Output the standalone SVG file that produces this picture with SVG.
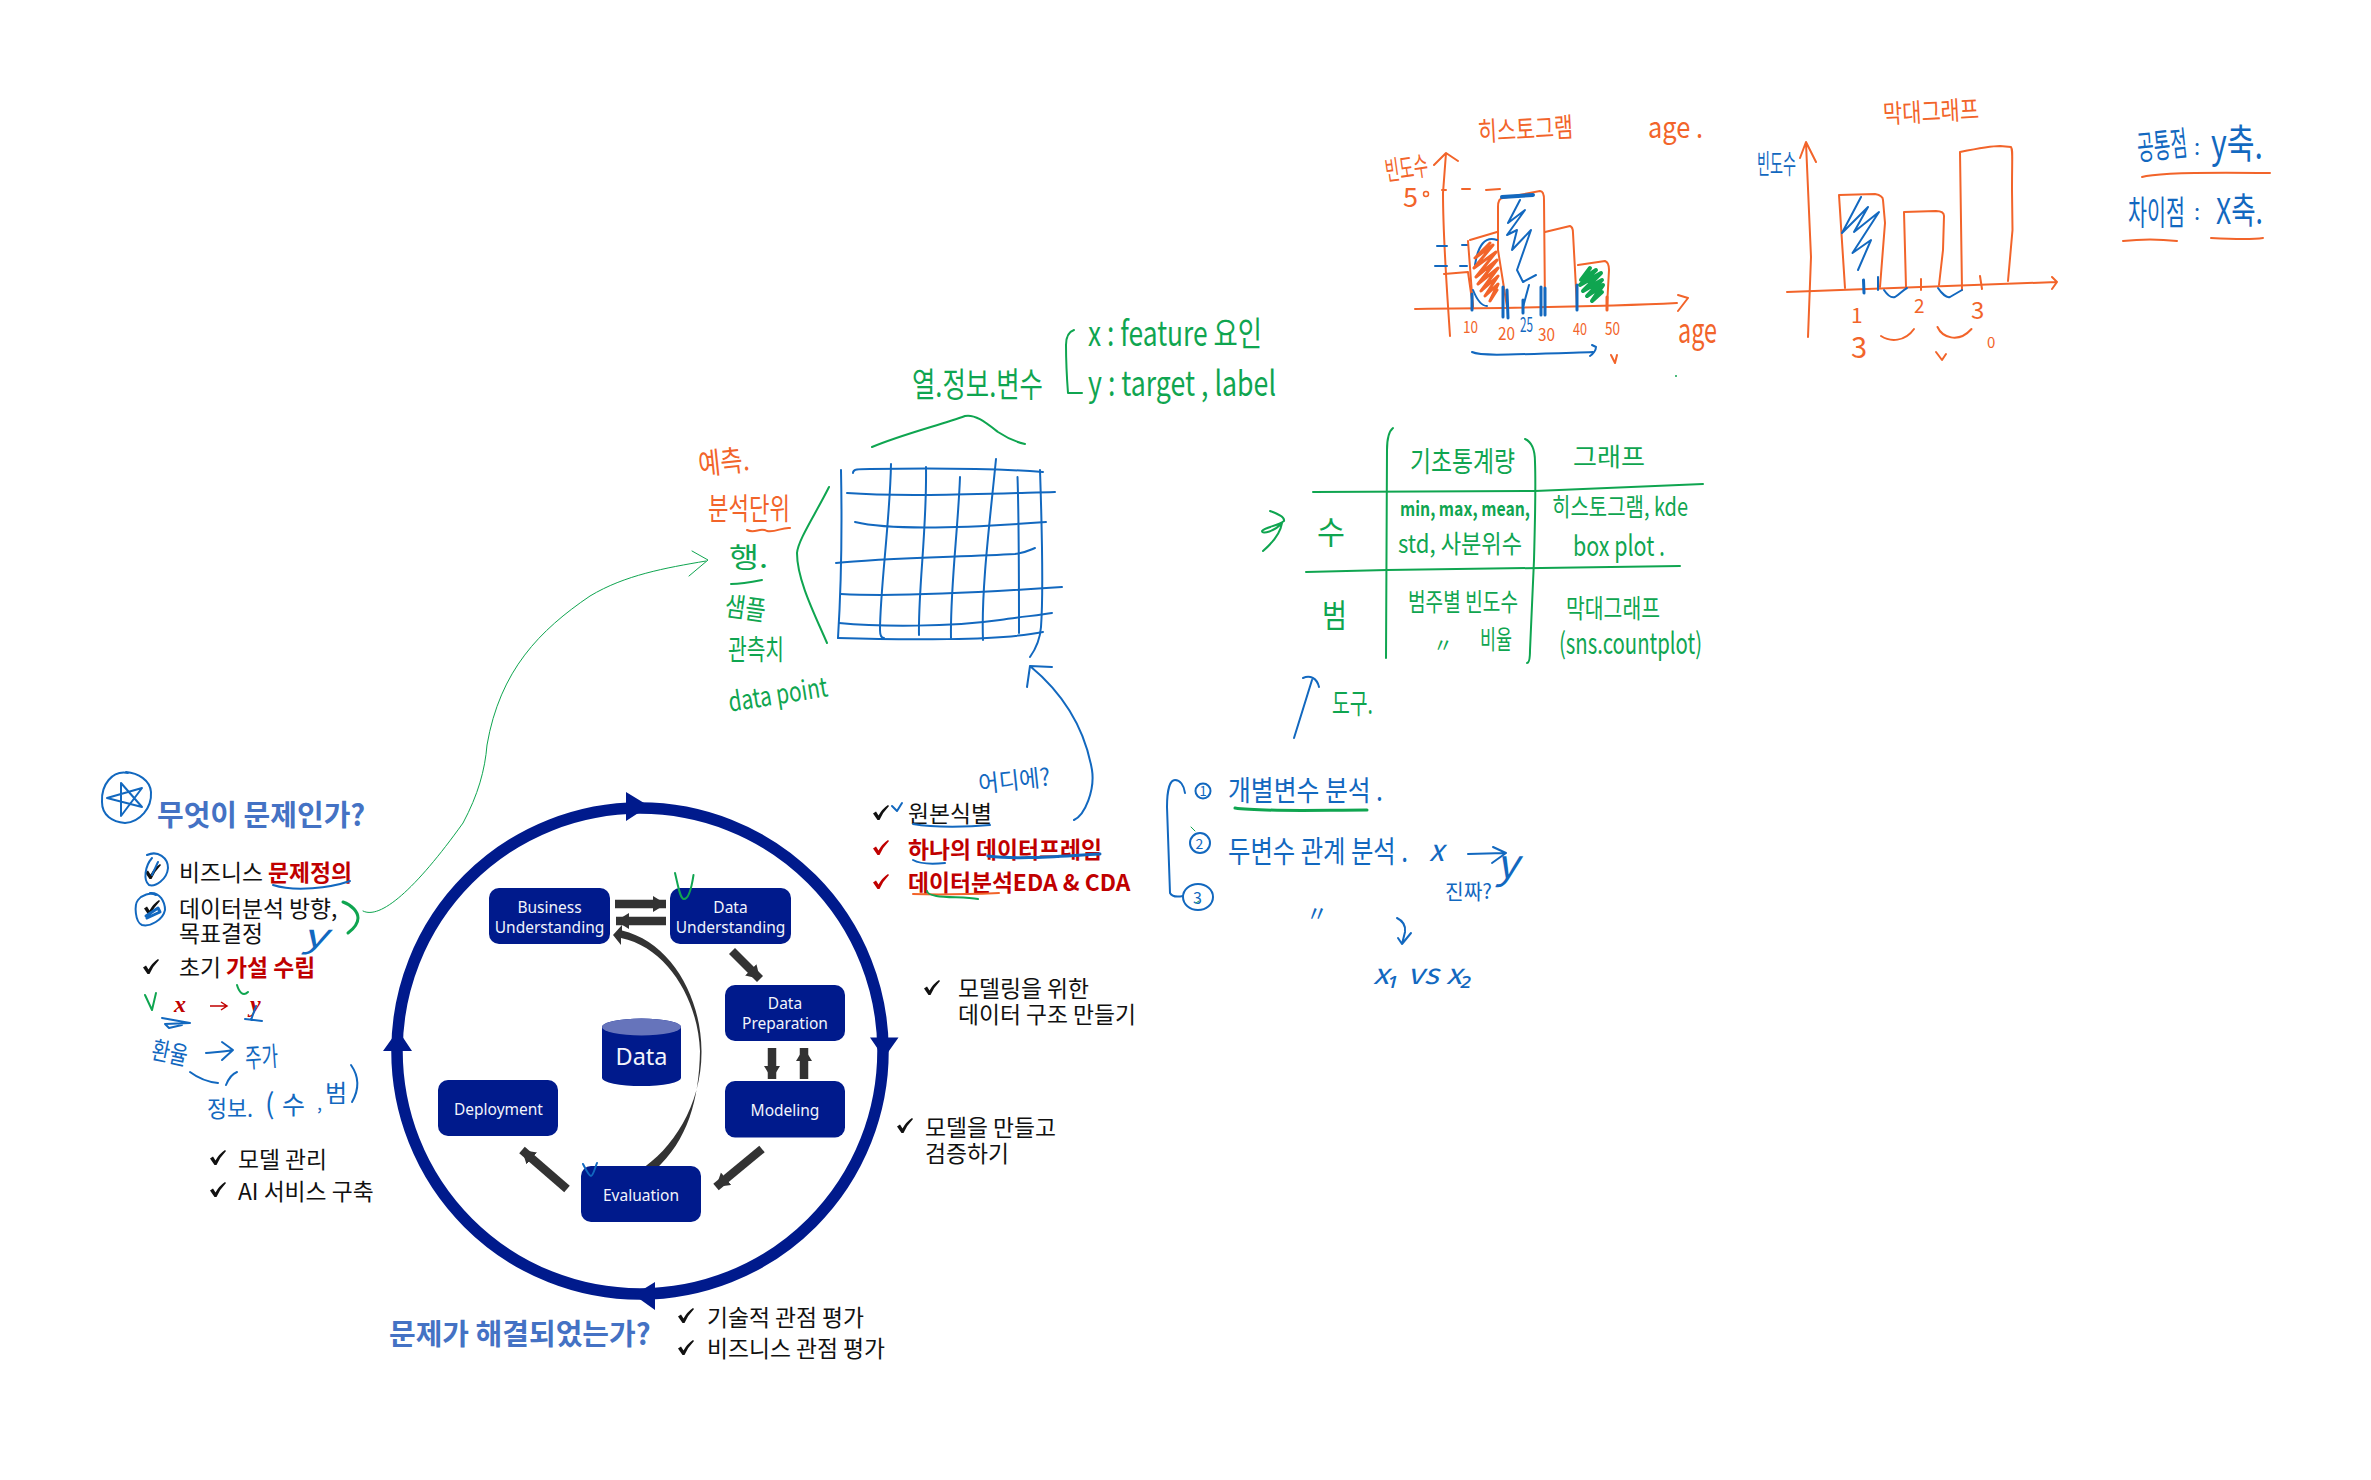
<svg xmlns="http://www.w3.org/2000/svg" width="2371" height="1480" viewBox="0 0 2371 1480">
<style>
text{font-family:"Noto Sans CJK KR","Noto Sans",sans-serif}
.box{fill:#001a8c}
.bt{font-family:"Noto Sans",sans-serif;font-size:15.5px;fill:#f2f4fb;text-anchor:middle}
.p{font-size:22.8px;fill:#111}
.r{font-weight:700;fill:#c00000}
.h{font-size:29px;font-weight:700;fill:#4472c4}
.b{fill:#1268bf}.g{fill:#0fa550}.o{fill:#f2642a}
.sb,.sg,.so{fill:none;stroke-linecap:round;stroke-linejoin:round;stroke-width:2}
.sb{stroke:#1268bf}.sg{stroke:#0fa550}.so{stroke:#f2642a}
.w3{stroke-width:3}.w4{stroke-width:4}.w1{stroke-width:1}
.ar{stroke:#333;stroke-width:8.5;fill:none}
</style>
<defs>
<path id="ck" d="M0 8.5 L3 6.5 L5.5 10.5 Q9 4 15 0 L16 1 Q10 7 6.5 15 L4.5 15 Z"/>
<marker id="ah" markerUnits="userSpaceOnUse" markerWidth="14" markerHeight="17" refX="13" refY="8" orient="auto"><path d="M0 0 L13 8 L0 16 Z" fill="#333"/></marker>
</defs>

<g id="ring">
<circle cx="640" cy="1051" r="243" fill="none" stroke="#001a8c" stroke-width="11.5"/>
<path fill="#001a8c" d="M626 792 L649 806 L626 821 Z M870 1037.5 L898.5 1037.5 L884 1058 Z M655 1282 L634 1295 L655 1310 Z M383 1051 L412 1051 L398 1030 Z"/>
</g>

<g id="connectors">
<line class="ar" x1="615" y1="904" x2="666" y2="904" marker-end="url(#ah)"/>
<line class="ar" x1="666" y1="921" x2="616" y2="921" marker-end="url(#ah)"/>
<line class="ar" x1="732" y1="951" x2="760" y2="979" marker-end="url(#ah)"/>
<line class="ar" x1="772" y1="1048" x2="772" y2="1079" marker-end="url(#ah)"/>
<line class="ar" x1="804" y1="1079" x2="804" y2="1048" marker-end="url(#ah)"/>
<line class="ar" x1="762" y1="1149" x2="716" y2="1187" marker-end="url(#ah)"/>
<line class="ar" x1="567" y1="1189" x2="522" y2="1150" marker-end="url(#ah)"/>
<path fill="#333" d="M613 935 L622 925 L622 930.5 C670 942 701 995 701.5 1051 C702 1105 672 1150 640 1170 L655 1170 C688 1140 699 1100 700 1051 C698 1000 668 948 621 938 L621 945 Z"/>
</g>

<g id="node-business"><rect class="box" x="489" y="888" width="121" height="56" rx="10"/><text class="bt" x="549.5" y="913">Business</text><text class="bt" x="549.5" y="933">Understanding</text></g>
<g id="node-data-understanding"><rect class="box" x="670" y="888" width="121" height="56" rx="10"/><text class="bt" x="730.5" y="913">Data</text><text class="bt" x="730.5" y="933">Understanding</text></g>
<g id="node-data-preparation"><rect class="box" x="725" y="985" width="120" height="56" rx="10"/><text class="bt" x="785" y="1008.5">Data</text><text class="bt" x="785" y="1028.5">Preparation</text></g>
<g id="node-modeling"><rect class="box" x="725" y="1081" width="120" height="56.5" rx="10"/><text class="bt" x="785" y="1116">Modeling</text></g>
<g id="node-deployment"><rect class="box" x="438" y="1080" width="120" height="56" rx="10"/><text class="bt" x="498.5" y="1115">Deployment</text></g>
<g id="node-evaluation"><rect class="box" x="581" y="1166" width="120" height="56" rx="10"/><text class="bt" x="641" y="1200.5">Evaluation</text></g>
<g id="node-data">
<path class="box" d="M602 1027 A39.5 8.5 0 0 1 681 1027 L681 1078 A39.5 8 0 0 1 602 1078 Z"/>
<ellipse cx="641.5" cy="1027" rx="39.5" ry="8.5" fill="#6674bb"/>
<text x="641.5" y="1065" text-anchor="middle" style="font-family:'Noto Sans',sans-serif;font-size:23.5px;fill:#f2f4fb">Data</text>
</g>

<g id="printed-text">
<text class="h" x="157" y="826">무엇이 문제인가?</text>
<text class="h" x="389" y="1345">문제가 해결되었는가?</text>
<text class="p" x="179" y="881">비즈니스 <tspan class="r">문제정의</tspan></text>
<text class="p" x="179" y="917">데이터분석 방향,</text>
<text class="p" x="179" y="942">목표결정</text>
<text class="p" x="179" y="976">초기 <tspan class="r">가설 수립</tspan></text>
<text x="174" y="1012" style="font-family:'Liberation Serif',serif;font-style:italic;font-weight:700;font-size:24px;fill:#c00000">x</text>
<text x="250" y="1012" style="font-family:'Liberation Serif',serif;font-style:italic;font-weight:700;font-size:24px;fill:#c00000">y</text>
<text class="p" x="238" y="1168">모델 관리</text>
<text class="p" x="238" y="1200">AI 서비스 구축</text>
<text class="p" x="908" y="822">원본식별</text>
<text class="p r" x="908" y="858">하나의 데이터프레임</text>
<text class="p r" x="908" y="891">데이터분석EDA &amp; CDA</text>
<text class="p" x="958" y="997">모델링을 위한</text>
<text class="p" x="958" y="1023">데이터 구조 만들기</text>
<text class="p" x="925" y="1136">모델을 만들고</text>
<text class="p" x="925" y="1162">검증하기</text>
<text class="p" x="707" y="1326">기술적 관점 평가</text>
<text class="p" x="707" y="1357">비즈니스 관점 평가</text>
<use href="#ck" x="145" y="864" fill="#111"/>
<use href="#ck" x="144" y="900" fill="#111"/>
<use href="#ck" x="143" y="959" fill="#111"/>
<use href="#ck" x="210" y="1150" fill="#111"/>
<use href="#ck" x="210" y="1182" fill="#111"/>
<use href="#ck" x="873" y="805" fill="#111"/>
<use href="#ck" x="873" y="840" fill="#c00000"/>
<use href="#ck" x="873" y="874" fill="#c00000"/>
<use href="#ck" x="924" y="980" fill="#111"/>
<use href="#ck" x="897" y="1118" fill="#111"/>
<use href="#ck" x="678" y="1308" fill="#111"/>
<use href="#ck" x="678" y="1340" fill="#111"/>
<path d="M210 1006 L226 1006 M221 1002 L227 1006 L221 1010" fill="none" stroke="#c00000" stroke-width="1.5"/>
</g>

<g id="ink-left">
<path class="sb" d="M128 773 C112 770 101 785 102 802 C102 815 112 822 125 823 C140 822 152 808 151 792 C150 780 138 773 126 772"/>
<path class="sb" d="M121 783 L121 816 L142 788 L107 798 L142 807 Z"/>
<path class="sb" d="M147 855 C158 850 168 858 168 868 C167 880 155 887 149 885 C143 880 145 866 152 858 M158 862 L152 875"/>
<path class="sb" d="M150 893 C160 892 165 902 165 910 C163 920 150 927 142 925 C135 922 134 905 138 900 C142 895 150 892 156 895"/>
<path class="sb w3" d="M146 916 L158 908 L160 912 L147 918"/>
<path class="sb" d="M273 885 C295 892 330 888 350 881"/>
<path class="sg w3" d="M343 902 C352 905 358 912 358 918 C358 924 352 930 348 933"/>
<path class="sg w1" d="M363 911 C380 920 415 890 463 823 C478 795 485 770 487 745 C500 670 540 630 590 596 C625 575 665 568 706 561"/>
<path class="sg w1" d="M692 551 L708 560 L689 576"/>
<path class="sg" d="M145 995 L152 1010 L156 993 M237 985 C239 992 243 997 248 992"/>
<path class="sb" d="M162 1018 L190 1023 L165 1024 L169 1028 L182 1025 M245 1019 L262 1021 M256 1006 L251 1020"/>
<path class="sb" d="M206 1053 C215 1052 224 1052 232 1050 M222 1042 L233 1050 L222 1060"/>
<path class="sb" d="M190 1072 C198 1078 208 1082 218 1083 M237 1072 C232 1074 228 1080 226 1085"/>
<text class="b" x="152" y="1062" font-size="25" textLength="36" lengthAdjust="spacingAndGlyphs" transform="rotate(12 170 1052)">환율</text>
<text class="b" x="245" y="1067" font-size="27" textLength="33" lengthAdjust="spacingAndGlyphs" transform="rotate(-4 260 1055)">주가</text>
<text class="b" x="207" y="1117" font-size="23" textLength="46" lengthAdjust="spacingAndGlyphs">정보.</text>
<text class="b" x="265" y="1114" font-size="28">(</text>
<text class="b" x="282" y="1114" font-size="25">수</text>
<text class="b" x="317" y="1110" font-size="18">,</text>
<text class="b" x="325" y="1102" font-size="24">범</text>
<path class="sb" d="M351 1065 C358 1075 360 1088 352 1102"/>
<text class="b" x="302" y="947" font-size="32" font-style="italic" textLength="25" lengthAdjust="spacingAndGlyphs">y</text>
<path class="sb" d="M675 873 C678 885 680 899 684 899 C689 899 692 885 693.5 875" style="stroke:#0fa550"/>
<path class="sb" d="M583 1164 C586 1170 589 1176 591 1176 C593 1176 595 1168 597 1163"/>
<path class="sb" d="M892 806 L897 811 L902 803"/>
<path class="sb" d="M913 824 C935 828 970 827 990 825"/>
<path class="sb" d="M913 860 C920 864 935 864 945 863"/>
<path class="sb w3" d="M988 856 C1020 860 1060 856 1100 854"/>
<path class="so" d="M913 894 C940 895 975 894 999 893"/>
<path class="sg" d="M927 891 C928 899 960 896 978 899"/>
<text class="b" x="978" y="789" font-size="24" textLength="72" lengthAdjust="spacingAndGlyphs" transform="rotate(-6 1014 778)">어디에?</text>
<path class="sb" d="M1030 666 C1065 695 1085 730 1092 770 C1095 790 1085 815 1074 820 M1027 687 L1030 666 L1052 667"/>
</g>

<g id="ink-table">
<path class="sb" d="M853 473 C853 469 858 469 870 469 C930 468 990 468 1043 472"/>
<path class="sb" d="M847 493 C900 497 980 494 1055 492"/>
<path class="sb" d="M855 522 C880 528 940 530 1046 522"/>
<path class="sb" d="M836 563 C880 558 960 557 1015 554 C1025 553 1030 550 1035 548"/>
<path class="sb" d="M841 594 C900 597 990 592 1062 587"/>
<path class="sb" d="M839 623 C880 627 950 627 1000 620 C1020 617 1040 615 1052 613"/>
<path class="sb" d="M838 638 C900 640 1000 641 1043 632"/>
<path class="sb" d="M841 470 C842 520 841 590 838 638"/>
<path class="sb" d="M891 464 C890 520 880 590 880 630 C880 636 882 638 884 638"/>
<path class="sb" d="M926 467 C927 530 918 590 919 635"/>
<path class="sb" d="M960 477 C958 530 950 590 951 638"/>
<path class="sb" d="M996 459 C990 520 981 590 983 640"/>
<path class="sb" d="M1017.5 477 C1019 520 1019 590 1019 633"/>
<path class="sb" d="M1040 470 C1042 530 1043 600 1041 627 C1040 640 1035 650 1030 657"/>
<path class="sg" d="M872 447 C900 435 940 425 965 416 C975 414 985 422 998 432 C1007 438 1016 442 1025 444"/>
<path class="sg" d="M829 487 C815 515 798 540 797 553 C797 580 815 615 827 643"/>
<path class="sg" d="M1074 330 C1068 332 1066 338 1066 345 C1066 365 1067 380 1068 393 L1082 393"/>
<text class="g" x="912" y="397" font-size="34" textLength="131" lengthAdjust="spacingAndGlyphs">열.정보.변수</text>
<text class="g" x="1088" y="346" font-size="34" textLength="174" lengthAdjust="spacingAndGlyphs">x : feature 요인</text>
<text class="g" x="1088" y="396" font-size="34" textLength="188" lengthAdjust="spacingAndGlyphs">y : target , label</text>
<text class="o" x="698" y="473" font-size="30" textLength="51" lengthAdjust="spacingAndGlyphs" transform="rotate(-6 720 460)">예측.</text>
<text class="o" x="708" y="519" font-size="30" textLength="82" lengthAdjust="spacingAndGlyphs">분석단위</text>
<path class="so" d="M747 530 C755 534 760 527 767 531 C775 533 782 527 790 528"/>
<text class="g" x="729" y="568" font-size="28" textLength="39" lengthAdjust="spacingAndGlyphs">행.</text>
<path class="sg" d="M731 584 C742 584 752 582 762 580"/>
<text class="g" x="725" y="618" font-size="27" textLength="41" lengthAdjust="spacingAndGlyphs" transform="rotate(8 745 608)">샘플</text>
<text class="g" x="728" y="660" font-size="28" textLength="56" lengthAdjust="spacingAndGlyphs">관측치</text>
<text class="g" x="728" y="704" font-size="27" textLength="100" lengthAdjust="spacingAndGlyphs" transform="rotate(-9 778 695)">data point</text>
</g>

<g id="ink-stats">
<path class="sg" d="M1393 428 C1388 432 1387 440 1387 450 L1386 658"/>
<path class="sg" d="M1525 439 C1532 442 1535 450 1535 462 C1536 490 1535 520 1534 560 L1530 650 C1530 658 1529 663 1527 663"/>
<path class="sg" d="M1313 492 L1535 491 L1703 484"/>
<path class="sg" d="M1306 572 L1387 570 L1680 566"/>
<text class="g" x="1410" y="472" font-size="28" textLength="105" lengthAdjust="spacingAndGlyphs">기초통계량</text>
<text class="g" x="1573" y="466" font-size="25" textLength="72" lengthAdjust="spacingAndGlyphs">그래프</text>
<text class="g" x="1317" y="544" font-size="32" textLength="28" lengthAdjust="spacingAndGlyphs">수</text>
<text class="g" x="1322" y="627" font-size="32" textLength="25" lengthAdjust="spacingAndGlyphs">범</text>
<text class="g" x="1400" y="516" font-size="20" textLength="130" lengthAdjust="spacingAndGlyphs" font-weight="700">min, max, mean,</text>
<text class="g" x="1398" y="553" font-size="25" textLength="124" lengthAdjust="spacingAndGlyphs">std, 사분위수</text>
<text class="g" x="1552" y="516" font-size="25" textLength="136" lengthAdjust="spacingAndGlyphs">히스토그램, kde</text>
<text class="g" x="1573" y="556" font-size="28" textLength="92" lengthAdjust="spacingAndGlyphs">box plot .</text>
<text class="g" x="1408" y="611" font-size="25" textLength="110" lengthAdjust="spacingAndGlyphs">범주별 빈도수</text>
<text class="g" x="1433" y="653" font-size="20">〃</text>
<text class="g" x="1480" y="649" font-size="26" textLength="32" lengthAdjust="spacingAndGlyphs">비율</text>
<text class="g" x="1566" y="618" font-size="26" textLength="94" lengthAdjust="spacingAndGlyphs">막대그래프</text>
<text class="g" x="1559" y="654" font-size="29" textLength="143" lengthAdjust="spacingAndGlyphs">(sns.countplot)</text>
<path class="sg" d="M1270 511 C1278 514 1285 517 1284 521 C1278 526 1265 527 1262 531 C1262 535 1275 531 1282 523 C1280 535 1270 545 1263 551"/>
<path class="sb" d="M1294 738 L1312 680 M1303 678 C1310 675 1317 678 1319 687"/>
<text class="g" x="1332" y="714" font-size="28" textLength="41" lengthAdjust="spacingAndGlyphs">도구.</text>
</g>

<g id="ink-histogram">
<text class="o" x="1478" y="139" font-size="27" textLength="95" lengthAdjust="spacingAndGlyphs" transform="rotate(-3 1525 130)">히스토그램</text>
<text class="o" x="1648" y="138" font-size="29" textLength="55" lengthAdjust="spacingAndGlyphs">age .</text>
<text class="o" x="1385" y="178" font-size="27" textLength="43" lengthAdjust="spacingAndGlyphs" transform="rotate(-8 1405 168)">빈도수</text>
<text class="o" x="1403" y="207" font-size="27">5</text>
<circle cx="1426" cy="194" r="2.5" fill="none" stroke="#f2642a" stroke-width="1.5"/>
<path class="so" d="M1450 336 C1447 290 1443 240 1443 193 L1446 153 M1434 165 L1446 153 L1458 161"/>
<path class="so" d="M1415 309 C1500 308 1600 307 1677 303 M1678 295 L1688 298 L1678 311"/>
<path class="so" d="M1442 190 L1446 190 M1462 189 L1470 189 M1486 190 L1500 189"/>
<path class="sb" d="M1437 246 L1447 246 M1462 245 L1468 245 M1435 266 L1447 266 M1460 266 L1467 266"/>
<path class="so" d="M1444 274 L1468 272 L1473 307"/>
<path class="so" d="M1468 241 L1473 307 M1470 240 L1497 232"/>
<path class="so" d="M1507 307 L1498 250 L1498 207 C1498 200 1500 198 1503 198 L1540 191 C1543 191 1544 195 1544 200 L1545 307"/>
<path class="so" d="M1545 232 L1570 226 C1573 227 1573 230 1573 233 L1577 307"/>
<path class="so" d="M1578 265 L1605 261 C1608 262 1609 265 1609 270 L1607 307"/>
<path class="sb w4" d="M1502 197 L1533 195"/>
<path class="sb" d="M1520 200 L1508 223 L1525 210 L1507 235 L1517 230 L1512 250 L1531 230 L1517 270 L1523 282 L1536 275 M1529 285 L1523 307 M1497 240 C1485 236 1478 245 1475 265 M1473 290 C1477 300 1482 306 1487 306"/>
<path class="so w3" d="M1490 243 L1475 258 L1493 245 L1474 268 L1496 252 L1476 277 L1497 260 L1478 284 L1498 268 L1481 291 L1498 276 L1485 296 L1498 284 L1490 301 L1497 290"/>
<path class="sg w4" d="M1590 268 L1581 280 L1596 270 L1580 285 L1601 273 L1583 291 L1602 280 L1587 296 L1603 285 L1592 301 L1602 292"/>
<path class="sb w3" d="M1472 294 L1472 310 M1503 287 L1503 317 M1507 290 L1508 318 M1523 300 L1523 313 M1541 287 L1541 315 M1545 288 L1545 315 M1577 285 L1577 310"/>
<path class="so w3" d="M1607 297 L1607 310"/>
<text class="o" x="1463" y="333" font-size="16" textLength="15" lengthAdjust="spacingAndGlyphs">10</text>
<text class="o" x="1498" y="340" font-size="18" textLength="17" lengthAdjust="spacingAndGlyphs">20</text>
<text class="b" x="1520" y="332" font-size="20" textLength="13" lengthAdjust="spacingAndGlyphs">25</text>
<text class="o" x="1538" y="341" font-size="18" textLength="17" lengthAdjust="spacingAndGlyphs">30</text>
<text class="o" x="1573" y="335" font-size="16" textLength="14" lengthAdjust="spacingAndGlyphs">40</text>
<text class="o" x="1605" y="335" font-size="18" textLength="15" lengthAdjust="spacingAndGlyphs">50</text>
<text class="o" x="1678" y="343" font-size="34" textLength="39" lengthAdjust="spacingAndGlyphs">age</text>
<path class="sb" d="M1472 352 C1480 356 1500 355 1593 352 M1592 345 L1596 347 C1596 350 1593 354 1590 356"/>
<path class="so" d="M1611 355 L1615 363 L1617 355"/>
<circle cx="1676" cy="376" r="1" fill="#0fa550"/>
</g>

<g id="ink-barchart">
<text class="o" x="1883" y="121" font-size="26" textLength="96" lengthAdjust="spacingAndGlyphs" transform="rotate(-3 1930 112)">막대그래프</text>
<text class="b" x="1757" y="174" font-size="27" textLength="39" lengthAdjust="spacingAndGlyphs">빈도수</text>
<path class="so" d="M1806 143 L1811 257 L1808 337 M1800 158 L1806 142 L1816 162"/>
<path class="so" d="M1787 292 L2057 282 M2052 277 L2057 282 L2052 289"/>
<path class="so" d="M1845 288 L1839 195 L1875 194 C1880 195 1883 197 1883 200 L1885 223 L1880 287"/>
<path class="so" d="M1906 287 L1904 212 L1936 211 C1941 211 1944 212 1944 216 L1943 250 L1939 285"/>
<path class="so" d="M1962 290 L1960 152 C1975 149 1990 146 2000 146 L2011 147 C2013 150 2012 155 2012 190 L2012.5 230 L2008 281"/>
<path class="sb" d="M1861 197 L1842 233 L1868 207 L1854 232 L1879 212 L1852.5 253 L1871 240 L1858 270"/>
<path class="sb w3" d="M1863.5 280 L1864 293"/>
<path class="sb" d="M1878 277 L1878 290 M1884 290 C1888 296 1892 298 1895 297 C1900 294 1903 290 1907 288 M1938 288 C1942 294 1947 298 1950 297 L1962 290"/>
<path class="so" d="M1921 279 L1921 290 M1980 276 L1982 289"/>
<text class="o" x="1851" y="323" font-size="21">1</text>
<text class="o" x="1914" y="313" font-size="19">2</text>
<text class="o" x="1971" y="319" font-size="24">3</text>
<text class="o" x="1851" y="358" font-size="29">3</text>
<path class="so" d="M1881 336 C1890 342 1905 342 1914 329 M1937.5 327 C1942 337 1958 344 1971.5 329"/>
<path class="so" d="M1936 352 L1942 360 L1946 354"/>
<text class="o" x="1987" y="348" font-size="15">0</text>
<text class="b" x="2137" y="158" font-size="34" textLength="50" lengthAdjust="spacingAndGlyphs" transform="rotate(-6 2160 145)">공통점</text>
<text class="b" x="2194" y="155" font-size="22">:</text>
<text class="b" x="2211" y="158" font-size="40" textLength="52" lengthAdjust="spacingAndGlyphs">y축.</text>
<path class="so" d="M2142 177 C2155 173 2200 172 2270 173"/>
<text class="b" x="2128" y="225" font-size="34" textLength="57" lengthAdjust="spacingAndGlyphs">차이점</text>
<text class="b" x="2194" y="220" font-size="22">:</text>
<text class="b" x="2216" y="224" font-size="36" textLength="47" lengthAdjust="spacingAndGlyphs">X축.</text>
<path class="so" d="M2123 241 C2140 239 2160 239 2177 241 M2211 238 C2230 239 2250 240 2263 238"/>
</g>

<g id="ink-analysis">
<path class="sb" d="M1185 793 C1184 785 1180 780 1175 780 C1170 780 1167 790 1167 807 L1170 893 C1172 897 1178 897 1183 896"/>
<circle class="sb" cx="1203" cy="791" r="7.5"/>
<text class="b" x="1199.5" y="796" font-size="13">1</text>
<circle class="sb" cx="1200" cy="843" r="10"/>
<text class="b" x="1195.5" y="849" font-size="14">2</text>
<ellipse class="sb" cx="1198" cy="897" rx="15" ry="13"/>
<text class="b" x="1193" y="904" font-size="16">3</text>
<path class="sg w1" d="M1191 827 L1195 831 M1196 903 L1199 901"/>
<text class="b" x="1228" y="801" font-size="28" textLength="155" lengthAdjust="spacingAndGlyphs">개별변수 분석 .</text>
<path class="sg w3" d="M1235 808 C1260 812 1320 810 1367 810"/>
<text class="b" x="1228" y="862" font-size="30" textLength="180" lengthAdjust="spacingAndGlyphs">두변수 관계 분석 .</text>
<text class="b" x="1429" y="861" font-size="30" font-style="italic">x</text>
<path class="sb" d="M1468 854 L1505 853 M1493 847 L1506 853 L1492 863"/>
<text class="b" x="1496" y="878" font-size="40" font-style="italic" textLength="22" lengthAdjust="spacingAndGlyphs">y</text>
<text class="b" x="1445" y="899" font-size="21" textLength="47" lengthAdjust="spacingAndGlyphs">진짜?</text>
<text class="b" x="1306" y="921" font-size="22">〃</text>
<path class="sb" d="M1397 918 C1403 921 1406 925 1405 932 L1402 944 M1398 938 L1402 944 L1411 933"/>
<text class="b" x="1373" y="984" font-size="28" textLength="100" lengthAdjust="spacingAndGlyphs" font-style="italic">x₁ vs x₂</text>
</g>
</svg>
